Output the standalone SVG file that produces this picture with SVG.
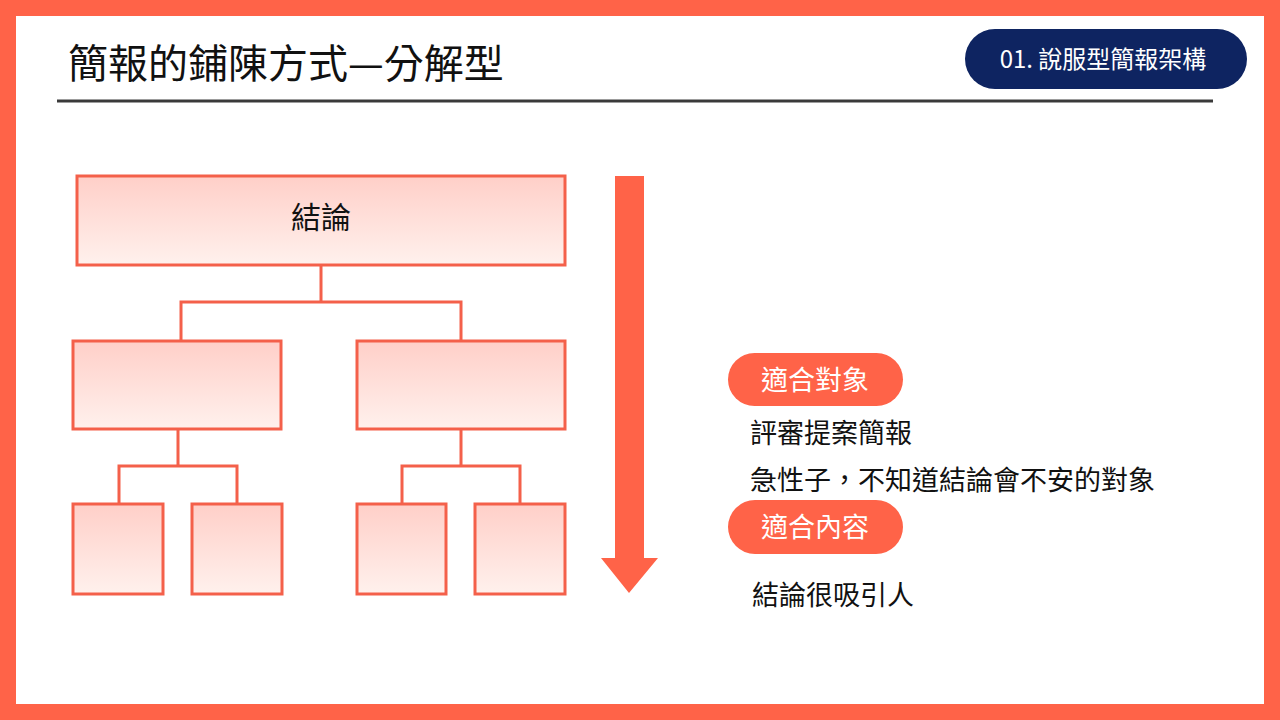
<svg xmlns="http://www.w3.org/2000/svg" width="1280" height="720" viewBox="0 0 1280 720">
<style>
text{font-family:"Noto Sans CJK TC","Noto Sans",sans-serif}
.b{fill:url(#g);stroke:#f4604a;stroke-width:3}
.c{fill:none;stroke:#f4604a;stroke-width:3}
.p{fill:#ff6348}
.pt{fill:#fff;font-size:27px}
.t{fill:#111;font-size:27px}
</style>
<defs><linearGradient id="g" x1="0" y1="0" x2="0" y2="1"><stop offset="0" stop-color="#ffcfc8"/><stop offset="1" stop-color="#fff1ed"/></linearGradient></defs>
<rect width="1280" height="720" fill="#ff6348"/>
<rect x="16" y="16" width="1248" height="688" fill="#fff"/>
<text x="68" y="78" font-size="40" fill="#111">簡報的鋪陳方式—分解型</text>
<line x1="57" y1="101" x2="1213" y2="101" stroke="#3a3a3a" stroke-width="3"/>
<g id="badge"><rect x="965" y="29" width="282" height="60" rx="30" fill="#0e2461"/><text x="1103" y="68" font-size="24" fill="#fff" text-anchor="middle">01. 說服型簡報架構</text></g>
<g id="connectors" class="c">
<path d="M321 265V302M181 341V302H461V341M178 429V466M119 504V466H237V504M461 429V466M402 504V466H520V504"/>
</g>
<g id="n0"><rect class="b" x="77" y="176" width="488" height="89"/><text x="321" y="228" text-anchor="middle" font-size="30" fill="#111">結論</text></g>
<g id="n1"><rect class="b" x="73" y="341" width="208" height="88"/></g>
<g id="n2"><rect class="b" x="357" y="341" width="208" height="88"/></g>
<g id="n3"><rect class="b" x="73" y="504" width="90" height="90"/></g>
<g id="n4"><rect class="b" x="192" y="504" width="90" height="90"/></g>
<g id="n5"><rect class="b" x="357" y="504" width="89" height="90"/></g>
<g id="n6"><rect class="b" x="475" y="504" width="90" height="90"/></g>
<g id="arrow"><path class="p" d="M615 176H644V558H658L629 593L601 558H615Z"/></g>
<g id="pill1"><rect class="p" x="728" y="353" width="175" height="53" rx="26.5"/><text class="pt" x="815" y="390" text-anchor="middle">適合對象</text></g>
<text class="t" x="750" y="443">評審提案簡報</text>
<text class="t" x="750" y="490">急性子，不知道結論會不安的對象</text>
<g id="pill2"><rect class="p" x="728" y="500" width="175" height="54" rx="27"/><text class="pt" x="815" y="537" text-anchor="middle">適合內容</text></g>
<text class="t" x="752" y="605">結論很吸引人</text>
</svg>
